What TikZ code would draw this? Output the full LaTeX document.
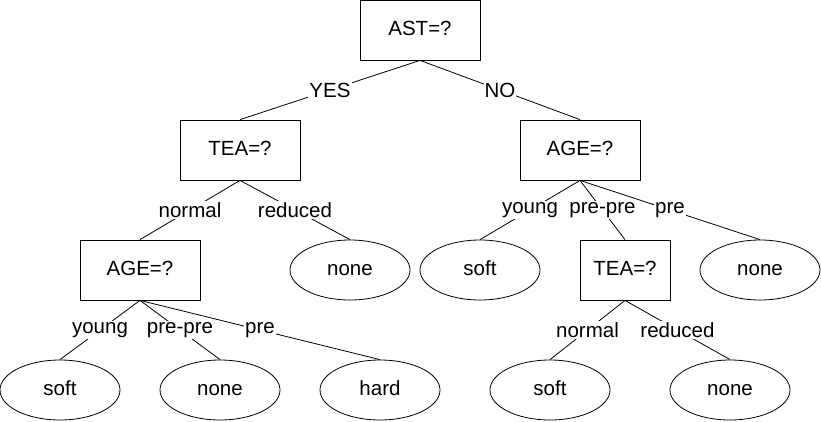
\documentclass[tikz,border=0pt]{standalone}
\usepackage{fontspec}
\setmainfont{Liberation Sans}
\usetikzlibrary{shapes.geometric}

\begin{document}
\begin{tikzpicture}[
    x=1pt, y=-1pt, line width=0.8pt,
    font=\fontsize{20.5}{24}\selectfont,
    test/.style={draw, minimum width=120pt, minimum height=60pt, inner sep=0pt,
      text height=14.5pt, text depth=4pt},
    leaf/.style={draw, ellipse, minimum width=120pt, minimum height=60pt, inner sep=0pt,
      text height=14.5pt, text depth=4pt},
    branch/.style={fill=white, inner sep=1pt},
  ]
  \useasboundingbox (0,0) rectangle (821,421);

  % ---- root ----
  \node[test] (ast) at (420,30) {AST=?};

  % ---- second level ----
  \node[test] (teaL) at (240,150) {TEA=?};
  \node[test] (ageR) at (580,150) {AGE=?};
  \draw (ast.south) -- node[branch]{YES} (teaL.north);
  \draw (ast.south) -- node[branch]{NO} (ageR.north);

  % ---- third level ----
  \node[test] (ageL) at (140,270) {AGE=?};
  \node[leaf] (noneA) at (350,270) {none};
  \node[leaf] (softA) at (480,270) {soft};
  \node[test, minimum width=90pt] (teaR) at (625,270) {TEA=?};
  \node[leaf] (noneB) at (760,270) {none};
  \draw (teaL.south) -- node[branch]{normal} (ageL.north);
  \draw (teaL.south) -- node[branch]{reduced} (noneA.north);
  \draw (ageR.south) -- node[branch]{young} (softA.north);
  \draw (ageR.south) -- node[branch]{pre-pre} (teaR.north);
  \draw (ageR.south) -- node[branch]{pre} (noneB.north);

  % ---- leaves ----
  \node[leaf] (softB) at (60,390) {soft};
  \node[leaf] (noneC) at (220,390) {none};
  \node[leaf] (hardA) at (380,390) {hard};
  \node[leaf] (softC) at (550,390) {soft};
  \node[leaf] (noneD) at (730,390) {none};
  \draw (ageL.south) -- node[branch]{young} (softB.north);
  \draw (ageL.south) -- node[branch]{pre-pre} (noneC.north);
  \draw (ageL.south) -- node[branch]{pre} (hardA.north);
  \draw (teaR.south) -- node[branch]{normal} (softC.north);
  \draw (teaR.south) -- node[branch]{reduced} (noneD.north);

\end{tikzpicture}
\end{document}
